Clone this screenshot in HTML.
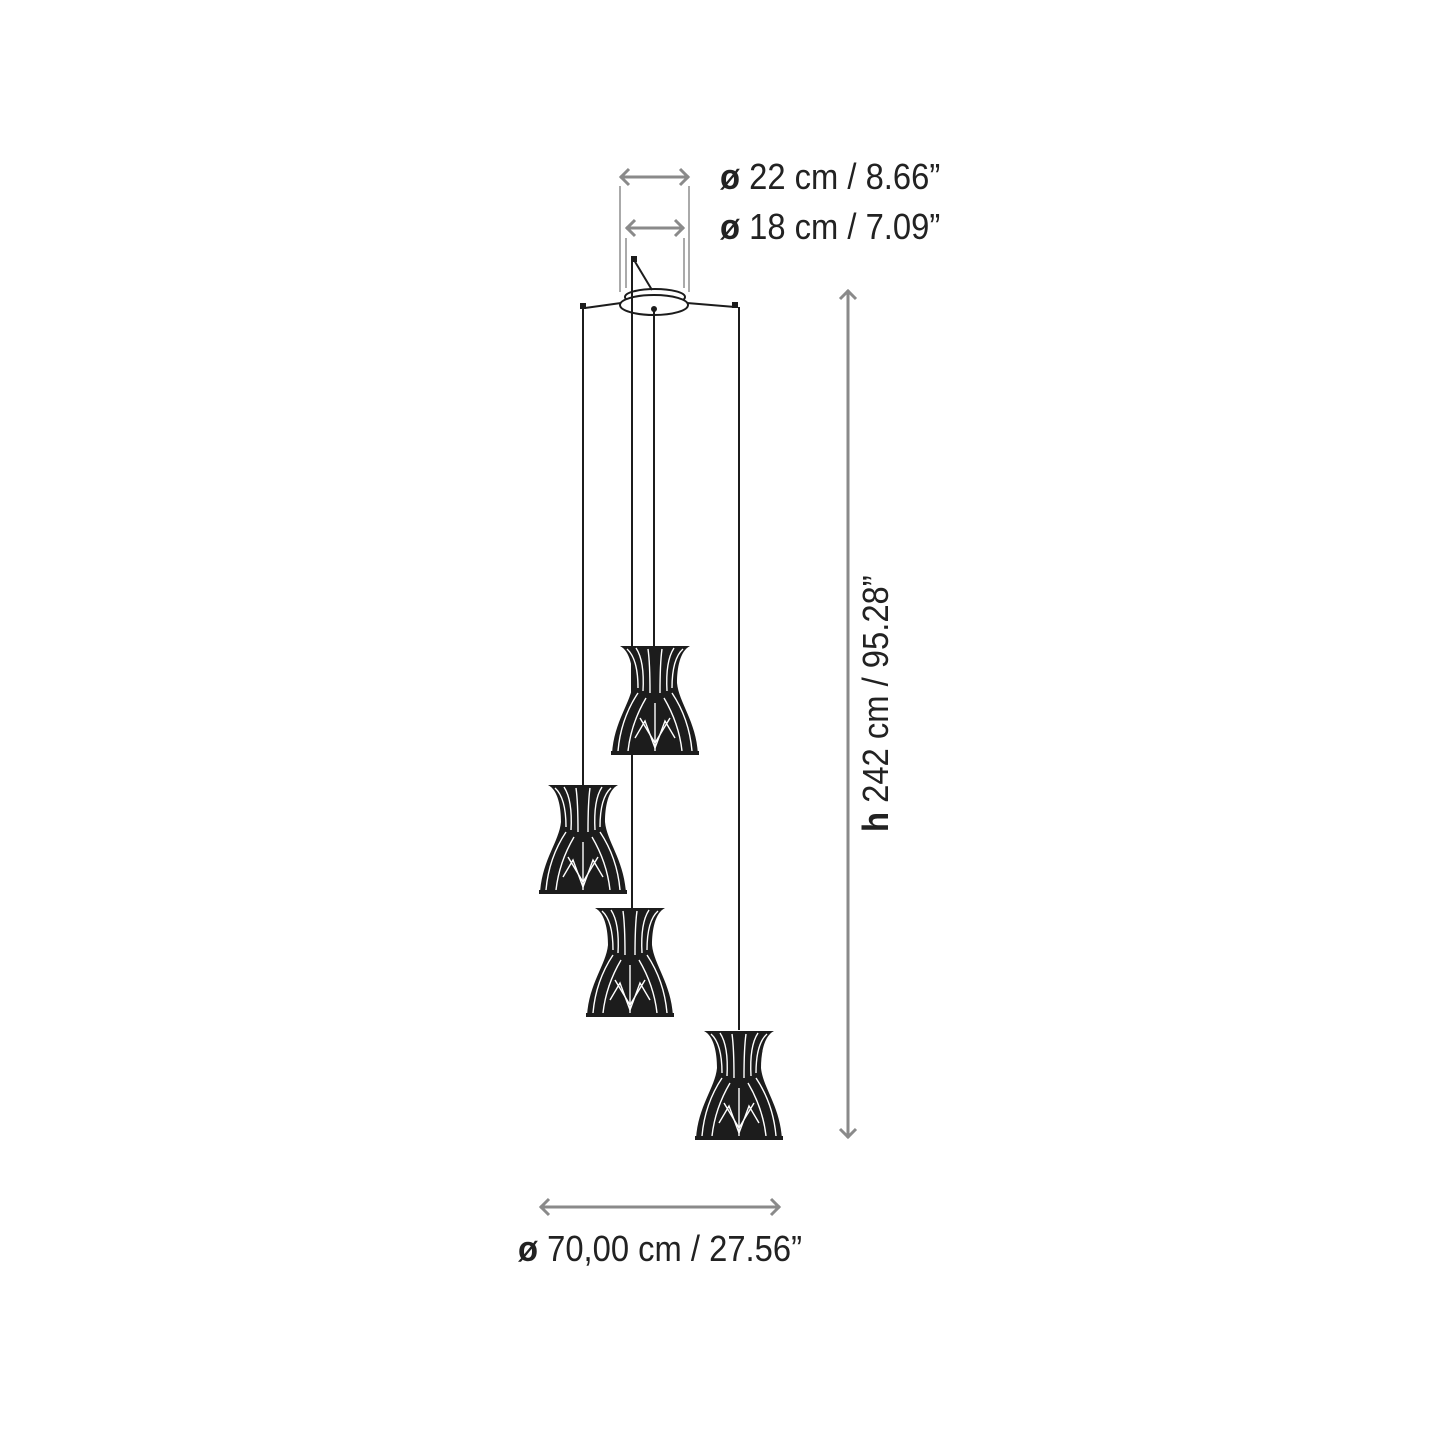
<!DOCTYPE html>
<html><head><style>html,body{margin:0;padding:0;background:#fff}svg{display:block}</style></head>
<body>
<svg width="1445" height="1445" viewBox="0 0 1445 1445" xmlns="http://www.w3.org/2000/svg">
<defs>
<g id="lamp">
<path d="M10,3 C20,8 23,25 23,40 C21,60 4,78 2,111 L88,111 C86,78 69,60 67,40 C67,25 70,8 80,3 Z" fill="#1c1c1c"/>
<g fill="none" stroke="#fff" stroke-width="1.4">
<path d="M17,6 C26,14 28,30 28,45"/><path d="M73,6 C64,14 62,30 62,45"/>
<path d="M26,5 C32,14 34,30 33,48"/><path d="M64,5 C58,14 56,30 57,48"/>
<path d="M38,6 C40,20 40,35 40,50"/><path d="M52,6 C50,20 50,35 50,50"/>
<path d="M28,50 C18,65 10,85 8,108"/><path d="M62,50 C72,65 80,85 82,108"/>
<path d="M36,55 C26,72 20,90 18,108"/><path d="M54,55 C64,72 70,90 72,108"/>
<path d="M30,75 L45,100 L60,75"/><path d="M25,95 L35,78 L45,105 L55,78 L65,95"/>
<path d="M45,60 L45,108"/>
</g>
<rect x="1" y="108" width="88" height="4" fill="#1c1c1c"/>
</g>
</defs>
<g stroke="#8a8a8a" stroke-width="3" fill="none">
<line x1="620" y1="177" x2="689" y2="177"/>
<polyline points="629,169 621,177 629,185"/><polyline points="680,169 688,177 680,185"/>
<line x1="626" y1="228" x2="684" y2="228"/>
<polyline points="635,220 627,228 635,236"/><polyline points="675,220 683,228 675,236"/>
<line x1="848" y1="290" x2="848" y2="1138"/>
<polyline points="840,299 848,291 856,299"/><polyline points="840,1129 848,1137 856,1129"/>
<line x1="540" y1="1207" x2="780" y2="1207"/>
<polyline points="549,1199 541,1207 549,1215"/><polyline points="771,1199 779,1207 771,1215"/>
</g>
<g stroke="#aaa" stroke-width="2">
<line x1="620" y1="186" x2="620" y2="292"/><line x1="689" y1="186" x2="689" y2="292"/>
<line x1="626" y1="238" x2="626" y2="288"/><line x1="684" y1="238" x2="684" y2="288"/>
</g>
<g stroke="#1c1c1c" stroke-width="2" fill="none">
<ellipse cx="655" cy="297" rx="30" ry="8"/>
<ellipse cx="654" cy="305" rx="34" ry="10" fill="#fff"/>
<line x1="634" y1="260" x2="652" y2="290"/>
<line x1="585" y1="308" x2="621" y2="303"/><line x1="735" y1="307" x2="687" y2="303"/>
<line x1="583" y1="308" x2="583" y2="785"/>
<line x1="632" y1="260" x2="632" y2="908"/>
<line x1="654" y1="310" x2="654" y2="646"/>
<line x1="739" y1="307" x2="739" y2="1030"/>
</g>
<g fill="#1c1c1c"><rect x="580" y="303" width="6" height="6"/><rect x="732" y="302" width="6" height="6"/><rect x="631" y="256" width="6" height="6"/><circle cx="654" cy="309" r="3"/></g>
<use href="#lamp" x="610" y="643"/>
<use href="#lamp" x="538" y="782"/>
<use href="#lamp" x="585" y="905"/>
<use href="#lamp" x="694" y="1028"/>
<g font-family="Liberation Sans, sans-serif" font-size="36" fill="#222">
<text transform="translate(720 189) scale(0.91 1)"><tspan font-weight="bold">ø</tspan> 22 cm / 8.66”</text>
<text transform="translate(720 239) scale(0.91 1)"><tspan font-weight="bold">ø</tspan> 18 cm / 7.09”</text>
<text transform="translate(518 1261) scale(0.91 1)"><tspan font-weight="bold">ø</tspan> 70,00 cm / 27.56”</text>
<text transform="translate(888 832) rotate(-90) scale(0.91 1)"><tspan font-weight="bold">h</tspan> 242 cm / 95.28”</text>
</g>
</svg>
</body></html>
